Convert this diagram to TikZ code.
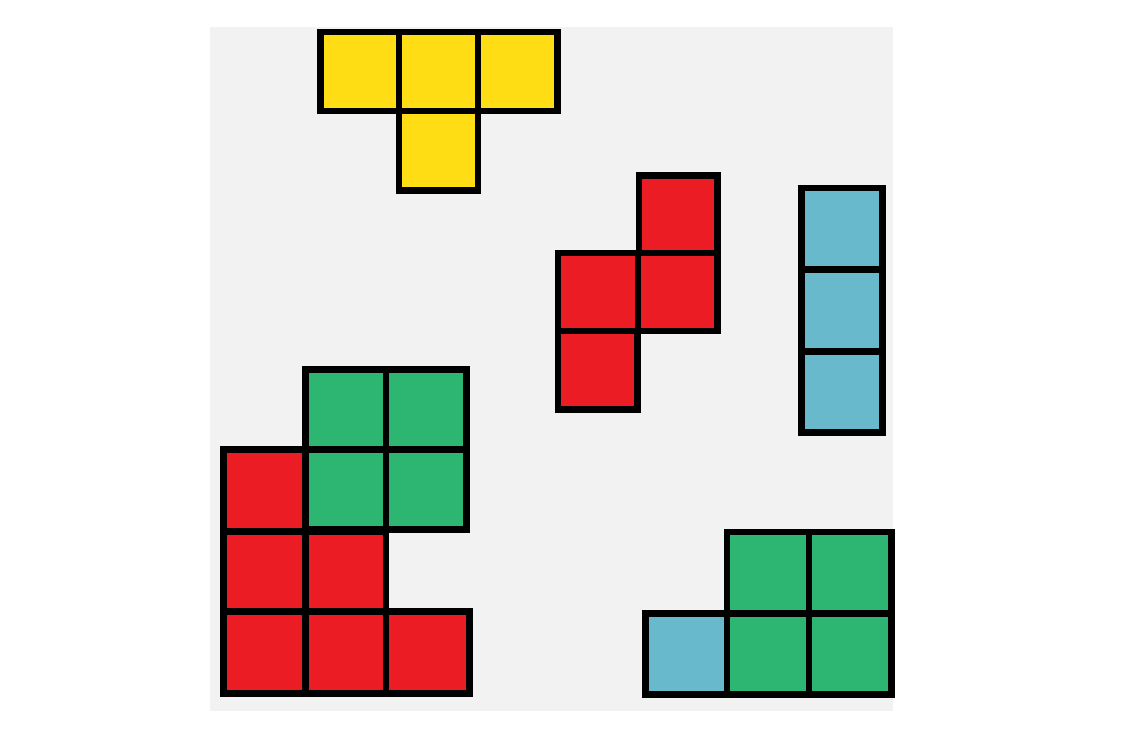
\documentclass[tikz,border=0pt]{standalone}
\definecolor{bggray}{HTML}{F2F2F2}
\definecolor{tyellow}{HTML}{FEDD15}
\definecolor{tred}{HTML}{EC1C24}
\definecolor{tgreen}{HTML}{2CB672}
\definecolor{tcyan}{HTML}{69B9CC}
\begin{document}
\begin{tikzpicture}[x=1pt,y=-1pt,
  cellbox/.style={draw=black,line width=6.6pt,line join=miter}]
\useasboundingbox (0,0) rectangle (1146,734);
\fill[bggray] (210,27) rectangle (893,711);
% yellow T
\draw[cellbox,fill=tyellow] (320.5,32) rectangle (399,111);
\draw[cellbox,fill=tyellow] (399,32) rectangle (478,111);
\draw[cellbox,fill=tyellow] (478,32) rectangle (557.5,111);
\draw[cellbox,fill=tyellow] (399,111) rectangle (478,190.5);
% red S
\draw[cellbox,fill=tred] (639,175.3) rectangle (717.5,253);
\draw[cellbox,fill=tred] (558,253) rectangle (638,331);
\draw[cellbox,fill=tred] (638,253) rectangle (717.5,331);
\draw[cellbox,fill=tred] (558,331) rectangle (637.5,409.7);
% cyan I
\draw[cellbox,fill=tcyan] (801.3,188) rectangle (882.7,269.7);
\draw[cellbox,fill=tcyan] (801.3,269.7) rectangle (882.7,351.3);
\draw[cellbox,fill=tcyan] (801.3,351.3) rectangle (882.7,432.5);
% green O (left)
\draw[cellbox,fill=tgreen] (305.5,369.7) rectangle (386,449.3);
\draw[cellbox,fill=tgreen] (386,369.7) rectangle (466.3,449.3);
\draw[cellbox,fill=tgreen] (305.5,449.3) rectangle (386,529.5);
\draw[cellbox,fill=tgreen] (386,449.3) rectangle (466.3,529.5);
% red block (left)
\draw[cellbox,fill=tred] (223.7,449.3) rectangle (305.5,531.5);
\draw[cellbox,fill=tred] (223.7,531.5) rectangle (305.5,611.7);
\draw[cellbox,fill=tred] (305.5,531.5) rectangle (386,611.7);
\draw[cellbox,fill=tred] (223.7,611.7) rectangle (305.5,693.3);
\draw[cellbox,fill=tred] (305.5,611.7) rectangle (386,693.3);
\draw[cellbox,fill=tred] (386,611.7) rectangle (469.3,693.3);
% bottom right
\draw[cellbox,fill=tcyan] (645.3,613.3) rectangle (727,694.7);
\draw[cellbox,fill=tgreen] (727,532) rectangle (809,613.3);
\draw[cellbox,fill=tgreen] (809,532) rectangle (891.7,613.3);
\draw[cellbox,fill=tgreen] (727,613.3) rectangle (809,694.7);
\draw[cellbox,fill=tgreen] (809,613.3) rectangle (891.7,694.7);
\end{tikzpicture}
\end{document}
